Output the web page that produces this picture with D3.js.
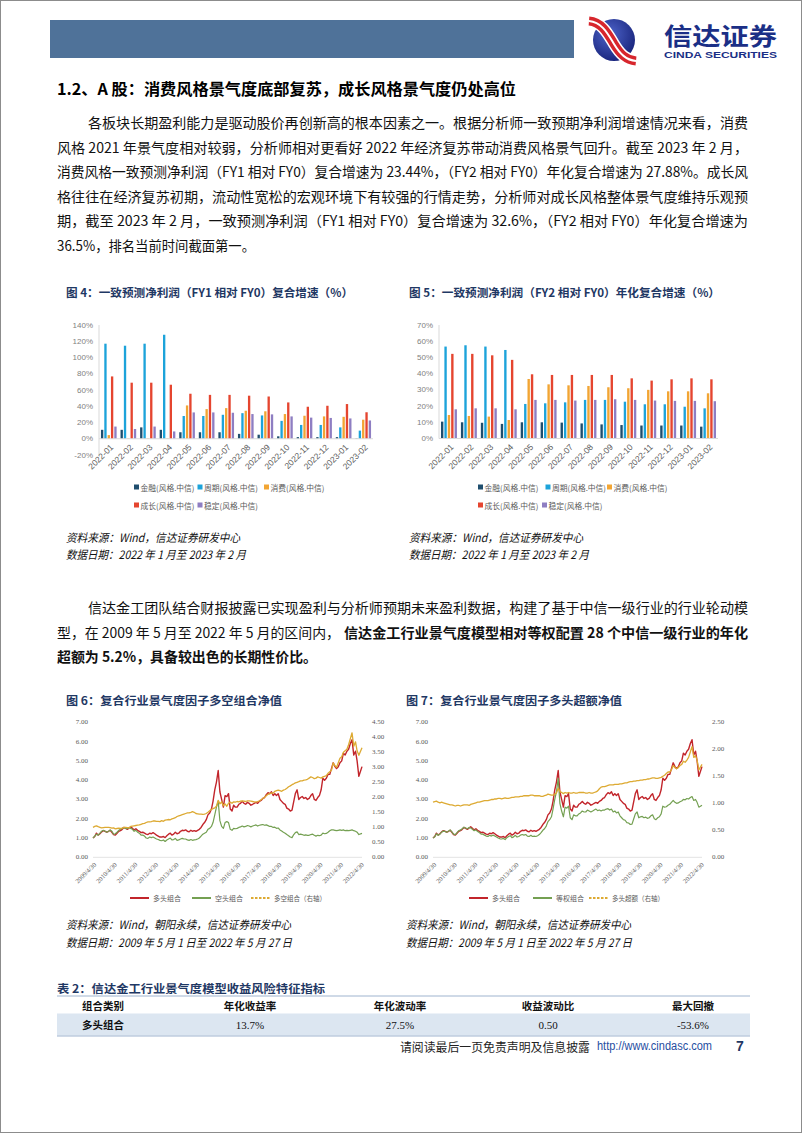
<!DOCTYPE html>
<html><head><meta charset="utf-8">
<script src="https://cdn.jsdelivr.net/npm/d3@7"></script>
<style>html,body{margin:0;padding:0;background:#fff;}svg{display:block;}</style>
</head><body>
<svg id="page" width="802" height="1133"></svg>
<script>
// ---------------- DATA ----------------
const barMonths = ["2022-01","2022-02","2022-03","2022-04","2022-05","2022-06","2022-07","2022-08","2022-09","2022-10","2022-11","2022-12","2023-01","2023-02"];
const styleNames = ["金融(风格.中信)","周期(风格.中信)","消费(风格.中信)","成长(风格.中信)","稳定(风格.中信)"];
// Fig 4: FY1 vs FY0 (%)
const fy1Fin = [11,11,14,11,8,8,8,6,5,3,2,2,2,0.5];
const fy1Cyc = [117,114.5,117,128,28,28,29.5,31.5,28.7,22,17,17,14,10];
const fy1Con = [4.5,0.5,0.5,0.5,41,36.5,37.7,34.5,33.8,30.4,28.3,27.5,27,23.44];
const fy1Gro = [76.7,69,69,66.5,55.4,54,54,53,52,44.7,39.4,40.6,42.7,32.6];
const fy1Sta = [15,12,15,9,32.4,32.4,32,30.4,30,27.5,26,25.6,25,22.5];
const fy1Ticks = [-20,0,20,40,60,80,100,120,140];
// Fig 5: FY2 vs FY0 annualised (%)
const fy2Fin = [10.4,10,9.7,9,10,10,9.8,9.3,8.7,8.3,8,8,8,7.3];
const fy2Cyc = [56.7,57.5,56.7,54.6,21.3,21.7,22.3,23.8,23.8,22.7,21.1,21.1,19.6,18.6];
const fy2Con = [14.5,13.9,13.5,11.4,36.7,33.4,32.8,32.4,31.6,31,30,29.1,29.1,27.88];
const fy2Gro = [52.2,52.2,51.3,48.5,39.6,39.2,39.2,39.2,39.2,37.1,35.7,36.5,37.1,36.5];
const fy2Sta = [18,18.6,18.6,18,23.8,23.8,23.4,23.8,24.2,23.8,23.4,23.2,23.2,23];
const fy2Ticks = [0,10,20,30,40,50,60,70];

// Line charts: monthly net values, 2009-05 .. 2022-05
const longNav = [ // 多头组合
 1.00,1.08,1.25,1.15,1.22,1.32,1.38,1.35,
 1.30,1.35,1.40,1.30,1.18,1.15,1.25,1.35,1.38,1.45,1.55,1.50,
 1.45,1.52,1.58,1.50,1.42,1.48,1.40,1.35,1.28,1.30,1.25,1.20,
 1.18,1.25,1.22,1.28,1.22,1.15,1.10,1.05,1.05,1.08,1.02,1.12,
 1.20,1.25,1.15,1.20,1.30,1.22,1.25,1.35,1.40,1.38,1.42,1.35,
 1.32,1.40,1.35,1.38,1.35,1.40,1.45,1.55,1.70,1.80,1.95,2.20,
 2.30,2.50,2.90,3.50,3.90,4.50,3.40,3.00,2.60,3.20,3.15,3.30,
 2.50,2.40,2.70,2.60,2.60,2.75,2.80,2.90,2.80,2.75,2.85,2.80,
 2.70,2.75,2.80,2.85,2.80,2.90,2.95,3.05,3.10,3.25,3.35,3.30,
 3.40,3.20,3.30,3.20,3.30,3.00,2.90,2.80,2.75,2.55,2.50,2.40,
 2.45,2.90,3.30,3.50,3.00,3.10,3.15,3.05,3.10,3.00,3.05,3.20,
 3.30,3.00,2.95,3.10,3.20,3.50,4.10,4.00,4.10,4.30,4.30,4.60,
 4.90,4.70,4.60,4.70,4.90,5.00,5.40,5.30,5.50,5.60,5.90,6.10,
 5.30,5.50,5.00,4.20,4.70];
const shortNav = [ // 空头组合
 1.00,1.10,1.20,1.15,1.25,1.35,1.40,1.35,
 1.30,1.35,1.42,1.35,1.20,1.22,1.30,1.40,1.45,1.50,1.55,1.50,
 1.48,1.55,1.50,1.45,1.35,1.40,1.30,1.25,1.15,1.15,1.10,1.00,
 0.98,1.05,1.02,1.05,1.00,0.95,0.92,0.88,0.86,0.90,0.82,0.90,
 0.95,1.00,0.90,0.92,0.98,0.88,0.90,0.95,0.98,0.95,0.95,0.90,
 0.88,0.92,0.88,0.90,0.92,0.95,1.00,1.10,1.20,1.25,1.30,1.45,
 1.50,1.60,1.80,2.20,2.60,2.90,1.90,1.60,1.50,1.80,1.85,1.80,
 1.45,1.40,1.50,1.48,1.50,1.55,1.58,1.62,1.58,1.60,1.65,1.62,
 1.58,1.62,1.65,1.68,1.62,1.66,1.68,1.70,1.66,1.68,1.64,1.60,
 1.60,1.55,1.56,1.50,1.52,1.42,1.36,1.30,1.25,1.18,1.12,1.05,
 1.02,1.18,1.28,1.32,1.18,1.20,1.18,1.14,1.16,1.14,1.14,1.18,
 1.20,1.14,1.10,1.14,1.12,1.15,1.25,1.22,1.24,1.30,1.38,1.42,
 1.42,1.40,1.38,1.40,1.42,1.40,1.42,1.38,1.40,1.38,1.40,1.42,
 1.38,1.35,1.30,1.18,1.24];
const lsNav = [ // 多空组合（右轴）
 1.00,1.03,1.05,1.02,1.00,0.98,0.99,1.00,
 1.00,1.00,0.99,0.97,0.98,0.95,0.96,0.97,0.96,0.97,1.00,1.00,
 0.99,0.98,1.03,1.04,1.05,1.06,1.07,1.08,1.10,1.12,1.13,1.16,
 1.18,1.18,1.19,1.21,1.21,1.20,1.20,1.19,1.22,1.20,1.24,1.25,
 1.26,1.25,1.28,1.30,1.32,1.36,1.38,1.40,1.42,1.44,1.46,1.48,
 1.48,1.50,1.52,1.50,1.46,1.45,1.44,1.44,1.43,1.44,1.46,1.50,
 1.55,1.60,1.62,1.65,1.70,1.90,1.78,1.85,1.72,1.78,1.70,1.80,
 1.84,1.80,1.85,1.84,1.86,1.85,1.87,1.88,1.87,1.86,1.88,1.88,
 1.87,1.86,1.85,1.84,1.86,1.88,1.92,1.96,2.00,2.05,2.10,2.12,
 2.15,2.14,2.20,2.22,2.24,2.22,2.20,2.24,2.26,2.30,2.35,2.38,
 2.42,2.45,2.48,2.50,2.52,2.55,2.55,2.57,2.58,2.60,2.64,2.68,
 2.66,2.62,2.64,2.68,2.66,2.64,2.68,2.70,2.72,2.80,2.85,2.90,
 3.15,3.05,3.00,3.15,3.30,3.35,3.50,3.55,3.60,3.75,3.95,4.15,
 3.70,3.85,3.55,3.40,3.65];
const ewNav = [ // 等权组合
 1.00,1.06,1.22,1.14,1.20,1.30,1.36,1.34,
 1.30,1.36,1.42,1.32,1.20,1.18,1.28,1.38,1.42,1.48,1.56,1.52,
 1.48,1.55,1.52,1.45,1.38,1.42,1.34,1.28,1.20,1.20,1.15,1.10,
 1.08,1.14,1.10,1.15,1.10,1.05,1.00,0.96,0.95,0.98,0.92,1.02,
 1.08,1.12,1.02,1.06,1.14,1.05,1.08,1.15,1.18,1.15,1.18,1.10,
 1.08,1.14,1.08,1.10,1.08,1.12,1.18,1.28,1.40,1.48,1.62,1.85,
 1.95,2.10,2.50,3.00,3.40,4.10,2.80,2.40,2.10,2.60,2.55,2.65,
 2.05,1.95,2.20,2.15,2.15,2.25,2.30,2.40,2.35,2.35,2.45,2.40,
 2.35,2.40,2.45,2.50,2.42,2.45,2.40,2.45,2.45,2.50,2.52,2.45,
 2.50,2.35,2.40,2.30,2.35,2.15,2.05,1.95,1.92,1.80,1.78,1.70,
 1.72,2.00,2.25,2.35,2.05,2.10,2.12,2.05,2.08,2.02,2.05,2.15,
 2.20,2.00,1.95,2.05,2.10,2.25,2.65,2.60,2.62,2.70,2.75,2.85,
 2.95,2.85,2.80,2.82,2.88,2.92,3.00,2.98,3.05,3.02,3.10,3.15,
 2.95,3.00,2.85,2.60,2.70];
const excessNav = [ // 多头超额（右轴）
 1.02,1.03,1.04,1.02,1.01,1.02,1.01,1.00,
 0.99,0.98,0.97,0.97,0.96,0.95,0.96,0.96,0.95,0.96,0.97,0.97,
 0.97,0.96,0.98,0.99,1.00,1.01,1.02,1.02,1.03,1.04,1.05,1.05,
 1.05,1.06,1.07,1.07,1.08,1.08,1.09,1.09,1.08,1.09,1.10,1.09,
 1.09,1.10,1.11,1.11,1.12,1.12,1.12,1.13,1.13,1.14,1.14,1.14,
 1.14,1.15,1.15,1.14,1.14,1.14,1.14,1.13,1.13,1.14,1.15,1.17,
 1.16,1.15,1.15,1.17,1.19,1.28,1.22,1.20,1.18,1.20,1.19,1.20,
 1.19,1.19,1.20,1.19,1.19,1.20,1.20,1.20,1.20,1.19,1.19,1.20,
 1.19,1.19,1.20,1.21,1.23,1.27,1.30,1.31,1.31,1.32,1.33,1.34,
 1.34,1.34,1.35,1.35,1.35,1.36,1.36,1.37,1.38,1.38,1.39,1.40,
 1.40,1.41,1.41,1.42,1.42,1.43,1.43,1.44,1.44,1.45,1.45,1.46,
 1.47,1.47,1.46,1.46,1.47,1.48,1.50,1.52,1.55,1.58,1.58,1.62,
 1.70,1.66,1.64,1.66,1.70,1.72,1.78,1.76,1.80,1.85,1.95,2.05,
 1.85,1.88,1.80,1.62,1.72];
const navYears = [2009,2010,2011,2012,2013,2014,2015,2016,2017,2018,2019,2020,2021,2022];
const leftTicks = [0,1,2,3,4,5,6,7];
const right6Ticks = [0,0.5,1,1.5,2,2.5,3,3.5,4,4.5];
const right7Ticks = [0,0.5,1,1.5,2,2.5];

// Table
const tableHead = ["组合类别","年化收益率","年化波动率","收益波动比","最大回撤"];
const tableRow = ["多头组合","13.7%","27.5%","0.50","-53.6%"];

// ---------------- DRAW ----------------
const CJK = "'Noto Sans CJK SC','Noto Sans',sans-serif";
const SERIF = "'Liberation Serif','DejaVu Serif',serif";
const SANS = "'Liberation Sans','Arial',sans-serif";
const svg = d3.select("#page");
svg.append("rect").attr("width",802).attr("height",1133).attr("fill","#fff");
svg.append("rect").attr("x",0.5).attr("y",0.5).attr("width",801).attr("height",1132).attr("fill","none").attr("stroke","#8c8c8c");

function T(p,x,y,s,o={}){
  const t=p.append("text").attr("x",x).attr("y",y).text(s)
   .attr("font-family",o.ff||CJK).attr("font-size",o.fs||14).attr("fill",o.fill||"#111")
   .attr("dominant-baseline","central");
  if(o.fw) t.attr("font-weight",o.fw);
  if(o.anchor) t.attr("text-anchor",o.anchor);
  if(o.w) t.attr("textLength",o.w).attr("lengthAdjust","spacingAndGlyphs");
  if(o.italic) t.attr("font-style","italic");
  return t;
}

// header
svg.append("rect").attr("x",50).attr("y",20).attr("width",524).attr("height",38).attr("fill","#4F7299");
const defs=svg.append("defs");
const rg=defs.append("radialGradient").attr("id","lg").attr("cx","40%").attr("cy","35%").attr("r","70%");
rg.append("stop").attr("offset","0%").attr("stop-color","#4d63c9");
rg.append("stop").attr("offset","100%").attr("stop-color","#17237a");
svg.append("circle").attr("cx",614).attr("cy",40).attr("r",21).attr("fill","url(#lg)");
const sw="M589,21 C602,22 608,34 614,44 S626,60 636,61";
svg.append("path").attr("d",sw).attr("fill","none").attr("stroke","#fff").attr("stroke-width",12);
svg.append("path").attr("d",sw).attr("fill","none").attr("stroke","#d7262d").attr("stroke-width",9);
svg.append("path").attr("d",sw).attr("fill","none").attr("stroke","#fff").attr("stroke-width",2);
T(svg,664,34,"信达证券",{fs:24,fw:"bold",fill:"#1B2F86",w:113});
T(svg,664,55,"CINDA SECURITIES",{ff:SANS,fs:8.5,fw:"bold",fill:"#1B2F86",w:113});

// heading & paragraph 1
T(svg,57,88,"1.2、A 股：消费风格景气度底部复苏，成长风格景气度仍处高位",{fs:16,fw:"bold",fill:"#000",w:459});
const p1=[
 [88,122,"各板块长期盈利能力是驱动股价再创新高的根本因素之一。根据分析师一致预期净利润增速情况来看，消费",660],
 [57,147,"风格 2021 年景气度相对较弱，分析师相对更看好 2022 年经济复苏带动消费风格景气回升。截至 2023 年 2 月，",691],
 [57,171,"消费风格一致预测净利润（FY1 相对 FY0）复合增速为 23.44%，（FY2 相对 FY0）年化复合增速为 27.88%。成长风",691],
 [57,196,"格往往在经济复苏初期，流动性宽松的宏观环境下有较强的行情走势，分析师对成长风格整体景气度维持乐观预",691],
 [57,220,"期，截至 2023 年 2 月，一致预测净利润（FY1 相对 FY0）复合增速为 32.6%，（FY2 相对 FY0）年化复合增速为",691],
 [57,245,"36.5%，排名当前时间截面第一。",198]];
p1.forEach(l=>T(svg,l[0],l[1],l[2],{fs:14,w:l[3]}));

// paragraph 2
T(svg,88,607,"信达金工团队结合财报披露已实现盈利与分析师预期未来盈利数据，构建了基于中信一级行业的行业轮动模",{fs:14,w:660});
T(svg,57,632,"型，在 2009 年 5 月至 2022 年 5 月的区间内，",{fs:14,w:283});
T(svg,344,632,"信达金工行业景气度模型相对等权配置 28 个中信一级行业的年化",{fs:14,fw:"bold",w:404});
T(svg,57,656,"超额为 5.2%，具备较出色的长期性价比。",{fs:14,fw:"bold",w:260});

const TITLE="#1F3864";
// ---------- bar charts ----------
const barColors=["#1F4E6E","#1CA3DA","#F2A533","#E5452F","#8E7EC2"];
function barChart(c){
  const g=svg.append("g");
  const y=d3.scaleLinear().domain(c.domain).range([c.yBottom,c.yTop]);
  const x0=d3.scaleBand().domain(barMonths).range([c.xLeft,c.xRight]).paddingInner(0.2).paddingOuter(0.1);
  const x1=d3.scaleBand().domain(d3.range(c.series.length)).range([0,x0.bandwidth()]).paddingInner(0.3);
  g.append("line").attr("x1",c.xLeft).attr("x2",c.xLeft).attr("y1",c.yTop).attr("y2",c.yBottom).attr("stroke","#d9d9d9");
  c.ticks.forEach(t=>T(g,c.xLeft-6,y(t),t+"%",{ff:SANS,fs:8,fill:"#7f7f7f",anchor:"end"}));
  c.series.forEach((arr,k)=>{
    g.selectAll(null).data(arr).join("rect")
     .attr("x",(d,i)=>x0(barMonths[i])+x1(k)).attr("width",x1.bandwidth())
     .attr("y",d=>y(Math.max(0,d))).attr("height",d=>Math.abs(y(d)-y(0))).attr("fill",barColors[k]);
  });
  g.append("line").attr("x1",c.xLeft).attr("x2",c.xRight).attr("y1",y(0)).attr("y2",y(0)).attr("stroke","#d9d9d9");
  barMonths.forEach(m=>{
    const cx=x0(m)+x0.bandwidth()/2;
    g.append("text").attr("transform",`translate(${cx+3},${y(0)+7}) rotate(-45)`)
     .attr("text-anchor","end").attr("dominant-baseline","central")
     .attr("font-family",SANS).attr("font-size",8.5).attr("fill","#595959").text(m);
  });
  c.legend.forEach((it,k)=>{
    g.append("rect").attr("x",it[0]).attr("y",it[1]-2.5).attr("width",5).attr("height",5).attr("fill",barColors[k]);
    T(g,it[0]+6.5,it[1],styleNames[k],{fs:8,fill:"#595959",w:54});
  });
  T(svg,c.titleX,292,c.title,{fs:11.5,fw:"bold",fill:TITLE,w:c.titleW});
  T(svg,c.titleX,537,"资料来源：Wind，信达证券研发中心",{fs:11.5,italic:true,fill:"#111",w:174});
  T(svg,c.titleX,554,"数据日期：2022 年 1 月至 2023 年 2 月",{fs:11.5,italic:true,fill:"#111",w:180});
}
barChart({series:[fy1Fin,fy1Cyc,fy1Con,fy1Gro,fy1Sta],domain:[-20,140],ticks:fy1Ticks,
  xLeft:99,xRight:373,yTop:325,yBottom:455,
  legend:[[134,487],[197.5,487],[264,487],[134,505],[197.5,505]],
  title:"图 4：一致预测净利润（FY1 相对 FY0）复合增速（%）",titleX:66,titleW:287});
barChart({series:[fy2Fin,fy2Cyc,fy2Con,fy2Gro,fy2Sta],domain:[0,70],ticks:fy2Ticks,
  xLeft:439,xRight:718,yTop:325,yBottom:438.5,
  legend:[[478,487],[545.5,487],[607,487],[478,505],[542,505]],
  title:"图 5：一致预测净利润（FY2 相对 FY0）年化复合增速（%）",titleX:409,titleW:311});

// ---------- line charts ----------
const navDates=d3.range(longNav.length).map(i=>i===longNav.length-1?new Date(2022,4,27):new Date(2009,4+i,1));
const RED="#C2252B",GREEN="#74A052",GOLD="#DDAA33";
function lineChart(c){
  const g=svg.append("g");
  const x=d3.scaleTime().domain([new Date(2009,4,1),new Date(2022,4,27)]).range([c.xLeft,c.xRight]);
  const yL=d3.scaleLinear().domain([0,7]).range([c.yBottom,c.yTop]);
  const yR=d3.scaleLinear().domain([0,c.rMax]).range([c.yBottom,c.yTop]);
  g.append("line").attr("x1",c.xLeft).attr("x2",c.xRight).attr("y1",yL(0)).attr("y2",yL(0)).attr("stroke","#e3e3e3");
  leftTicks.forEach(t=>T(g,c.xLeft-5,yL(t),d3.format(".2f")(t),{ff:SERIF,fs:7,fill:"#595959",anchor:"end"}));
  c.rTicks.forEach(t=>T(g,c.xRight+10,yR(t),d3.format(".2f")(t),{ff:SERIF,fs:7,fill:"#595959"}));
  navYears.forEach(yr=>{
    const d=new Date(yr,3,30);
    g.append("text").attr("transform",`translate(${x(d)+2},${c.yBottom+6}) rotate(-45)`)
     .attr("text-anchor","end").attr("dominant-baseline","central")
     .attr("font-family",SERIF).attr("font-size",6.5).attr("fill","#595959").text(`${yr}/4/30`);
  });
  const mk=(sc)=>d3.line().x((d,i)=>x(navDates[i])).y(d=>sc(d));
  c.lines.forEach(L=>{
    g.append("path").attr("d",mk(L.right?yR:yL)(L.data)).attr("fill","none")
     .attr("stroke",L.color).attr("stroke-width",L.w).attr("stroke-linejoin","round")
     .attr("stroke-dasharray",L.dash||null);
  });
  c.legend.forEach(it=>{
    g.append("line").attr("x1",it.x).attr("x2",it.x+19).attr("y1",898).attr("y2",898)
     .attr("stroke",it.color).attr("stroke-width",2).attr("stroke-dasharray",it.dash?"2.5,1.5":null);
    T(g,it.x+23,898,it.label,{ff:CJK,fs:7,fill:"#595959",w:it.w});
  });
  T(svg,c.titleX,700,c.title,{fs:11.5,fw:"bold",fill:TITLE,w:216});
  T(svg,c.titleX,924,"资料来源：Wind，朝阳永续，信达证券研发中心",{fs:11.5,italic:true,fill:"#111",w:225});
  T(svg,c.titleX,941.5,"数据日期：2009 年 5 月 1 日至 2022 年 5 月 27 日",{fs:11.5,italic:true,fill:"#111",w:226});
}
lineChart({xLeft:93,xRight:362,yTop:722.3,yBottom:857.3,rMax:4.5,rTicks:right6Ticks,
  lines:[{data:longNav,color:RED,w:1.4},{data:shortNav,color:GREEN,w:1.2},{data:lsNav,color:GOLD,w:1.3,right:true}],
  legend:[{x:130,color:RED,label:"多头组合",w:28},{x:192,color:GREEN,label:"空头组合",w:28},{x:251,color:GOLD,dash:true,label:"多空组合（右轴）",w:52}],
  title:"图 6：复合行业景气度因子多空组合净值",titleX:66});
lineChart({xLeft:433,xRight:702,yTop:722.3,yBottom:857.3,rMax:2.5,rTicks:right7Ticks,
  lines:[{data:longNav,color:RED,w:1.4},{data:ewNav,color:GREEN,w:1.2},{data:excessNav,color:GOLD,w:1.3,right:true}],
  legend:[{x:469,color:RED,label:"多头组合",w:28},{x:533,color:GREEN,label:"等权组合",w:28},{x:589,color:GOLD,dash:true,label:"多头超额（右轴）",w:52}],
  title:"图 7：复合行业景气度因子多头超额净值",titleX:406});

// ---------- table ----------
T(svg,57,988,"表 2：信达金工行业景气度模型收益风险特征指标",{fs:11.5,fw:"bold",fill:TITLE,w:268});
const colX=[103,250,400,548,693];
svg.append("line").attr("x1",57).attr("x2",750).attr("y1",996).attr("y2",996).attr("stroke","#9fb4cf");
svg.append("rect").attr("x",57).attr("y",1013.5).attr("width",693).attr("height",22).attr("fill","#DCE6F1");
svg.append("line").attr("x1",57).attr("x2",750).attr("y1",1036).attr("y2",1036).attr("stroke","#9fb4cf");
tableHead.forEach((h,i)=>T(svg,colX[i],1005,h,{fs:10.5,fw:"bold",fill:"#111",anchor:"middle"}));
tableRow.forEach((v,i)=>T(svg,colX[i],1024.5,v,i===0?{fs:10.5,fw:"bold",fill:"#111",anchor:"middle"}:{ff:SERIF,fs:11,fill:"#111",anchor:"middle"}));

// footer
T(svg,400,1046,"请阅读最后一页免责声明及信息披露",{fs:12,fill:"#222",w:190});
T(svg,597,1046,"http://www.cindasc.com",{ff:SANS,fs:12,fill:"#1F4E9F",w:115});
T(svg,736,1046,"7",{ff:SANS,fs:14,fw:"bold",fill:"#1F3864"});
</script>
</body></html>
